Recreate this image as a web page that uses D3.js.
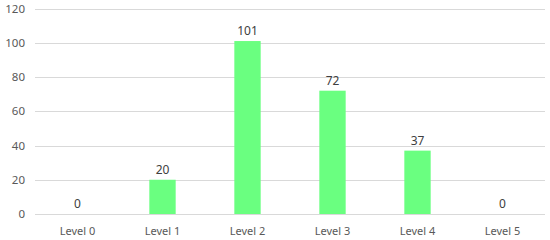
<!DOCTYPE html>
<html>
<head>
<meta charset="utf-8">
<script src="https://cdn.jsdelivr.net/npm/d3@7.9.0/dist/d3.min.js"></script>
<style>
  body { margin: 0; background: #fff; }
  svg text { font-family: "Noto Sans", "Open Sans", sans-serif; fill: #595959; }
</style>
</head>
<body>
<div id="chart"></div>
<script>
const levels = ["Level 0", "Level 1", "Level 2", "Level 3", "Level 4", "Level 5"];
const counts = [0, 20, 101, 72, 37, 0];
const yTicks = [0, 20, 40, 60, 80, 100, 120];

const width = 550;
const height = 240;
const margin = { top: 8.5, right: 5, bottom: 26, left: 35 };

const svg = d3.select("#chart").append("svg")
  .attr("width", width)
  .attr("height", height);

const x = d3.scaleBand()
  .domain(levels)
  .range([margin.left, width - margin.right])
  .paddingInner(0.69)
  .paddingOuter(0.345);

const y = d3.scaleLinear()
  .domain([0, 120])
  .range([height - margin.bottom, margin.top]);

// gridlines
svg.append("g")
  .selectAll("line")
  .data(yTicks)
  .join("line")
  .attr("x1", margin.left)
  .attr("x2", width - margin.right)
  .attr("y1", d => Math.round(y(d)) + 0.5)
  .attr("y2", d => Math.round(y(d)) + 0.5)
  .attr("stroke", "#d9d9d9")
  .attr("stroke-width", 1);

// y labels
svg.append("g")
  .selectAll("text")
  .data(yTicks)
  .join("text")
  .attr("x", 25)
  .attr("y", d => y(d))
  .attr("dy", "0.35em")
  .attr("text-anchor", "end")
  .style("font-size", "11.5px")
  .text(d => d);

// bars
svg.append("g")
  .selectAll("rect")
  .data(counts)
  .join("rect")
  .attr("x", (d, i) => x(levels[i]))
  .attr("y", d => y(d))
  .attr("width", x.bandwidth())
  .attr("height", d => y(0) - y(d))
  .attr("fill", "#6aff80");

// value labels
svg.append("g")
  .selectAll("text")
  .data(counts)
  .join("text")
  .attr("x", (d, i) => x(levels[i]) + x.bandwidth() / 2)
  .attr("y", d => y(d) - 6)
  .attr("text-anchor", "middle")
  .style("font-size", "12px")
  .style("fill", "#404040")
  .text(d => d);

// category labels
svg.append("g")
  .selectAll("text")
  .data(levels)
  .join("text")
  .attr("x", d => x(d) + x.bandwidth() / 2)
  .attr("y", height - margin.bottom + 17)
  .attr("dy", "0.35em")
  .attr("text-anchor", "middle")
  .style("font-size", "11px")
  .text(d => d);
</script>
</body>
</html>
